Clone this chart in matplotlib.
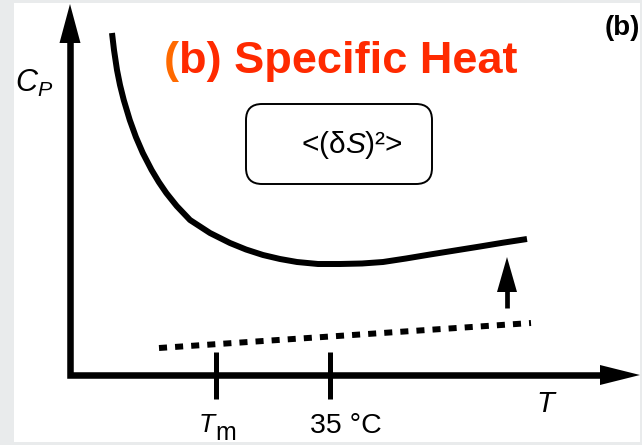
import matplotlib
matplotlib.use("Agg")
import matplotlib.pyplot as plt
from matplotlib.patches import Polygon, FancyBboxPatch, Rectangle

plt.rcParams['font.family'] = ['Liberation Sans', 'DejaVu Sans']
plt.rcParams['mathtext.fontset'] = 'custom'
plt.rcParams['mathtext.rm'] = 'Liberation Sans'
plt.rcParams['mathtext.it'] = 'Liberation Sans:italic'
plt.rcParams['mathtext.bf'] = 'Liberation Sans:bold'

# Schematic specific-heat curve C_P(T) (arbitrary units, origin at the axes corner)
cp_T = [42, 44, 47, 50, 53.75, 59.75, 65.9, 72.8, 81.6, 88.8, 96.3, 106.7, 120, 140,
        160, 176, 193, 210, 227, 248, 270, 292, 313, 336, 360, 385, 410, 433, 457]
cp_val = [342, 325, 305, 290, 275, 255, 238, 222, 205, 193, 182, 169, 155, 142,
          132, 125.5, 120, 116, 113, 111, 111, 111.5, 113, 116.5, 120.5, 124.5,
          128.5, 132.3, 136]

# Baseline contribution (dotted)
base_T = [89, 461]
base_val = [27, 52]

# Marked temperatures on the T axis
tick_T = [146, 260]

fig = plt.figure(figsize=(6.42, 4.45), dpi=100, facecolor='#e9ebec')
ax = fig.add_axes([0, 0, 1, 1])
ax.set_xlim(-70, 572)
ax.set_ylim(-70, 375)
ax.axis('off')

# white panel
ax.add_patch(Rectangle((-56, -67), 626, 439, facecolor='white', edgecolor='none', zorder=0))

# axes (L shape) with arrow heads
ax.plot([0, 0, 532], [334, 0, 0], color='black', lw=4.7, solid_joinstyle='miter',
        solid_capstyle='butt', zorder=3)
ax.add_patch(Polygon([(-10.5, 332), (10.5, 332), (0, 371)], closed=True,
                     facecolor='black', edgecolor='none', zorder=4))
ax.add_patch(Polygon([(530, 10), (530, -10), (570, 0)], closed=True,
                     facecolor='black', edgecolor='none', zorder=4))

# tick marks
for t in tick_T:
    ax.plot([t, t], [23, -24], color='black', lw=3.6, solid_capstyle='butt', zorder=3)

# curves
ax.plot(cp_T, cp_val, color='black', lw=4.3, solid_capstyle='butt',
        solid_joinstyle='round', zorder=3)
ax.plot(base_T, base_val, color='black', lw=4.3, ls=(0, (1.35, 1.35)),
        dash_capstyle='butt', zorder=3)

# upward arrow between baseline and curve
ax.plot([437, 437], [67, 85], color='black', lw=3.4, solid_capstyle='butt', zorder=3)
ax.add_patch(Polygon([(427, 83), (447, 83), (437, 118)], closed=True,
                     facecolor='black', edgecolor='none', zorder=4))

# fluctuation box
ax.add_patch(FancyBboxPatch((176, 191), 186, 80, boxstyle='round,pad=0,rounding_size=16',
                            facecolor='white', edgecolor='black', lw=1.4, zorder=2))
ax.text(282, 230, r'<(δ$S$)²>', fontsize=21.5, ha='center', va='center', zorder=5)

# labels
ax.text(-55, 283, r'$C_P$', fontsize=22, ha='left', va='baseline')
ax.text(466, -37, 'T', fontsize=21, style='italic', ha='left', va='baseline')
ax.text(129, -57, 'T', fontsize=19, style='italic', ha='left', va='baseline')
ax.text(145, -65, 'm', fontsize=18, ha='left', va='baseline')
ax.text(240, -58, '35 °C', fontsize=20.5, ha='left', va='baseline')

# title
t1 = ax.text(94, 302, '(', fontsize=32.5, fontweight='bold', color='#ff6a00',
             ha='left', va='baseline')
ax.annotate('b) Specific Heat', xy=(1, 0), xycoords=t1, fontsize=32.5,
            fontweight='bold', color='#ff2a00', ha='left', va='bottom')

ax.text(570, 347, '(b)', fontsize=20, fontweight='bold', ha='right', va='center')

fig.savefig('out.png', dpi=100, facecolor=fig.get_facecolor())
